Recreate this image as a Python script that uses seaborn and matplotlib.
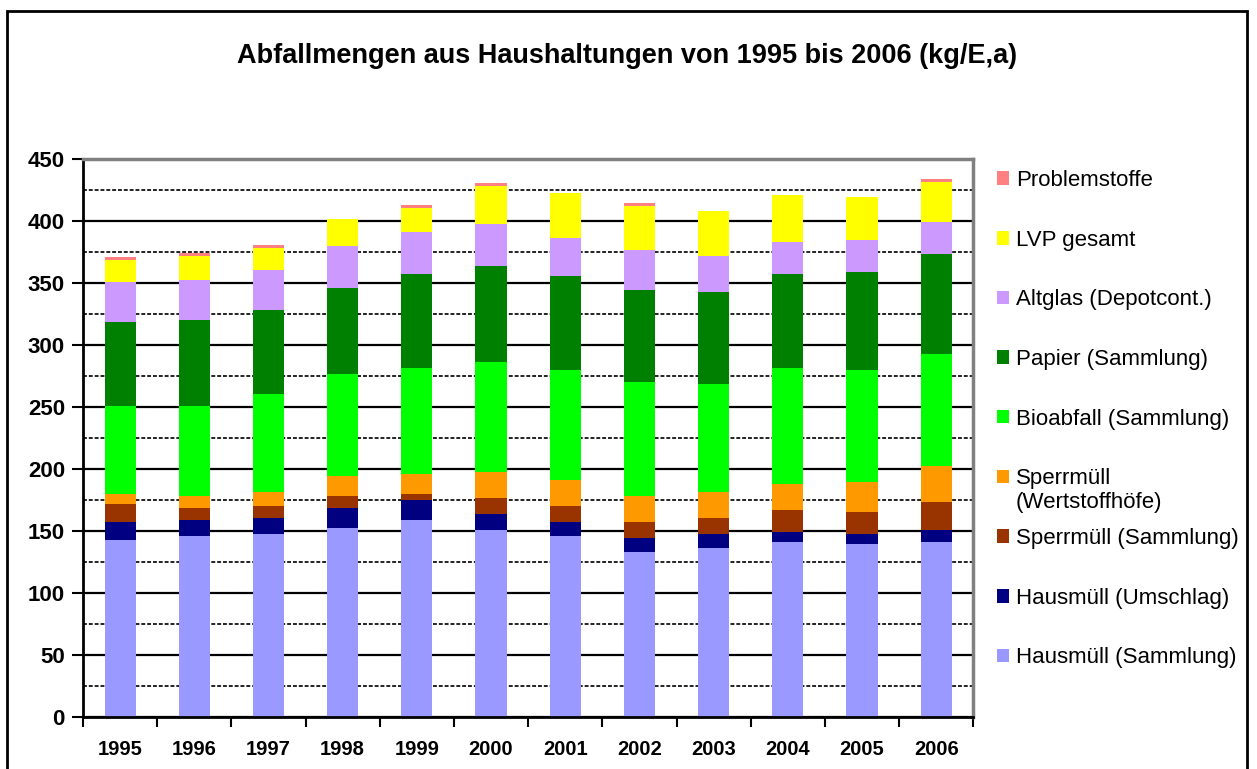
import numpy as np
import pandas as pd
import seaborn as sns
import matplotlib.pyplot as plt
from matplotlib.patches import Patch, Rectangle
from matplotlib.ticker import MultipleLocator, FixedLocator

# values (kg per inhabitant and year)
years = ["1995", "1996", "1997", "1998", "1999", "2000",
         "2001", "2002", "2003", "2004", "2005", "2006"]

hausmuell_sammlung = [142.5, 145.7, 147.3, 152.2, 158.6, 150.6, 145.7, 132.8, 136.0, 140.9, 139.3, 140.9]
hausmuell_umschlag = [14.5, 12.9, 12.9, 16.1, 16.2, 12.9, 11.3, 11.3, 11.3, 8.1, 8.0, 9.7]
sperrmuell_sammlung = [14.5, 9.7, 9.7, 9.7, 4.8, 12.9, 12.9, 12.9, 12.9, 17.7, 17.8, 22.5]
sperrmuell_wsh = [8.1, 9.7, 11.3, 16.1, 16.1, 20.9, 21.0, 21.0, 21.0, 21.0, 24.2, 29.1]
bioabfall = [71.0, 72.6, 79.1, 82.3, 85.5, 88.8, 88.7, 91.9, 87.1, 93.5, 90.3, 90.3]
papier = [67.7, 69.3, 67.7, 69.3, 75.8, 77.4, 75.8, 74.2, 74.2, 75.8, 79.0, 80.6]
altglas = [32.3, 32.3, 32.2, 33.9, 33.9, 33.8, 30.6, 32.3, 29.0, 25.8, 25.8, 25.8]
lvp = [18.0, 19.3, 17.8, 21.8, 19.3, 30.6, 36.1, 35.5, 36.3, 37.9, 34.4, 32.3]
problemstoffe = [2.1, 2.4, 2.4, 0.0, 2.5, 2.5, 0.3, 2.4, 0.3, 0.3, 0.3, 2.4]

series_names = ["Hausmüll (Sammlung)", "Hausmüll (Umschlag)", "Sperrmüll (Sammlung)",
                "Sperrmüll (Wertstoffhöfe)", "Bioabfall (Sammlung)", "Papier (Sammlung)",
                "Altglas (Depotcont.)", "LVP gesamt", "Problemstoffe"]
series_colors = ["#9999FF", "#000080", "#993300", "#FF9900", "#00FF00",
                 "#008000", "#CC99FF", "#FFFF00", "#FF8080"]

df = pd.DataFrame({
    series_names[0]: hausmuell_sammlung,
    series_names[1]: hausmuell_umschlag,
    series_names[2]: sperrmuell_sammlung,
    series_names[3]: sperrmuell_wsh,
    series_names[4]: bioabfall,
    series_names[5]: papier,
    series_names[6]: altglas,
    series_names[7]: lvp,
    series_names[8]: problemstoffe,
}, index=years)
cum = df.cumsum(axis=1)

sns.set_style("white")
plt.rcParams['font.family'] = ['Liberation Sans', 'DejaVu Sans']
plt.rcParams['text.color'] = 'black'
plt.rcParams['xtick.color'] = 'black'
plt.rcParams['ytick.color'] = 'black'

fig = plt.figure(figsize=(12.57, 7.69), dpi=100)
ax = fig.add_axes([83 / 1257, 1 - 716.7 / 769, (973.3 - 83) / 1257, (716.7 - 158.7) / 769])

# stacked bars: draw cumulative totals from top layer down
for name, col in reversed(list(zip(series_names, series_colors))):
    sns.barplot(x=years, y=cum[name].values, color=col, saturation=1, width=0.42,
                errorbar=None, linewidth=0, ax=ax)

ax.set_xlim(-0.5, len(years) - 0.5)
ax.set_ylim(0, 450)
ax.yaxis.set_major_locator(MultipleLocator(50))
ax.yaxis.set_minor_locator(MultipleLocator(25))
ax.xaxis.set_minor_locator(FixedLocator(np.arange(-0.5, len(years), 1.0)))
ax.set_axisbelow(True)
ax.grid(axis='y', which='major', color='black', lw=1.6, ls='-')
ax.grid(axis='y', which='minor', color='#222222', lw=1.4, ls=(0, (2, 1)))
ax.grid(axis='x', visible=False)

ax.tick_params(axis='y', which='major', length=8, width=1.5, direction='out', pad=5,
               labelsize=16, color='black', labelcolor='black', left=True)
ax.tick_params(axis='y', which='minor', length=0)
ax.tick_params(axis='x', which='major', length=0, pad=17, labelsize=14.5, labelcolor='black')
ax.tick_params(axis='x', which='minor', length=7, width=1.5, direction='out',
               color='black', bottom=True)
for lab in ax.get_xticklabels() + ax.get_yticklabels():
    lab.set_fontweight('bold')
ax.set_xlabel("")
ax.set_ylabel("")

for side in ['left', 'bottom']:
    ax.spines[side].set_color('black')
    ax.spines[side].set_linewidth(2)
for side in ['top', 'right']:
    ax.spines[side].set_color('#808080')
    ax.spines[side].set_linewidth(2.5)

fig.text(0.499, 1 - 56 / 769, "Abfallmengen aus Haushaltungen von 1995 bis 2006 (kg/E,a)",
         ha='center', va='center', fontsize=19.5, fontweight='bold', color='black')

# legend: the Wertstoffhöfe entry wraps onto a second line without shifting the rows
legend_labels = [n if n != "Sperrmüll (Wertstoffhöfe)" else "Sperrmüll" for n in series_names]
handles = [Patch(facecolor=c, edgecolor='none', label=n)
           for n, c in zip(legend_labels, series_colors)][::-1]
leg = fig.legend(handles=handles, loc='upper left', bbox_to_anchor=(997 / 1257, 1 - 170 / 769),
                 frameon=False, fontsize=16, handlelength=0.55, handleheight=0.55,
                 handletextpad=0.3, labelspacing=1.74, borderpad=0, borderaxespad=0,
                 labelcolor='black')

fig.canvas.draw()
for t in leg.get_texts():
    if t.get_text() == "Sperrmüll":
        bb = t.get_window_extent().transformed(fig.transFigure.inverted())
        fig.text(bb.x0, bb.y0 - 0.004, "(Wertstoffhöfe)", ha='left', va='top',
                 fontsize=16, color='black')

fig.patches.append(Rectangle((7 / 1257, -0.1), (1247 - 7) / 1257, (769 - 11) / 769 + 0.1,
                             transform=fig.transFigure, fill=False, ec='black', lw=2))

fig.savefig("out.png", dpi=100)
